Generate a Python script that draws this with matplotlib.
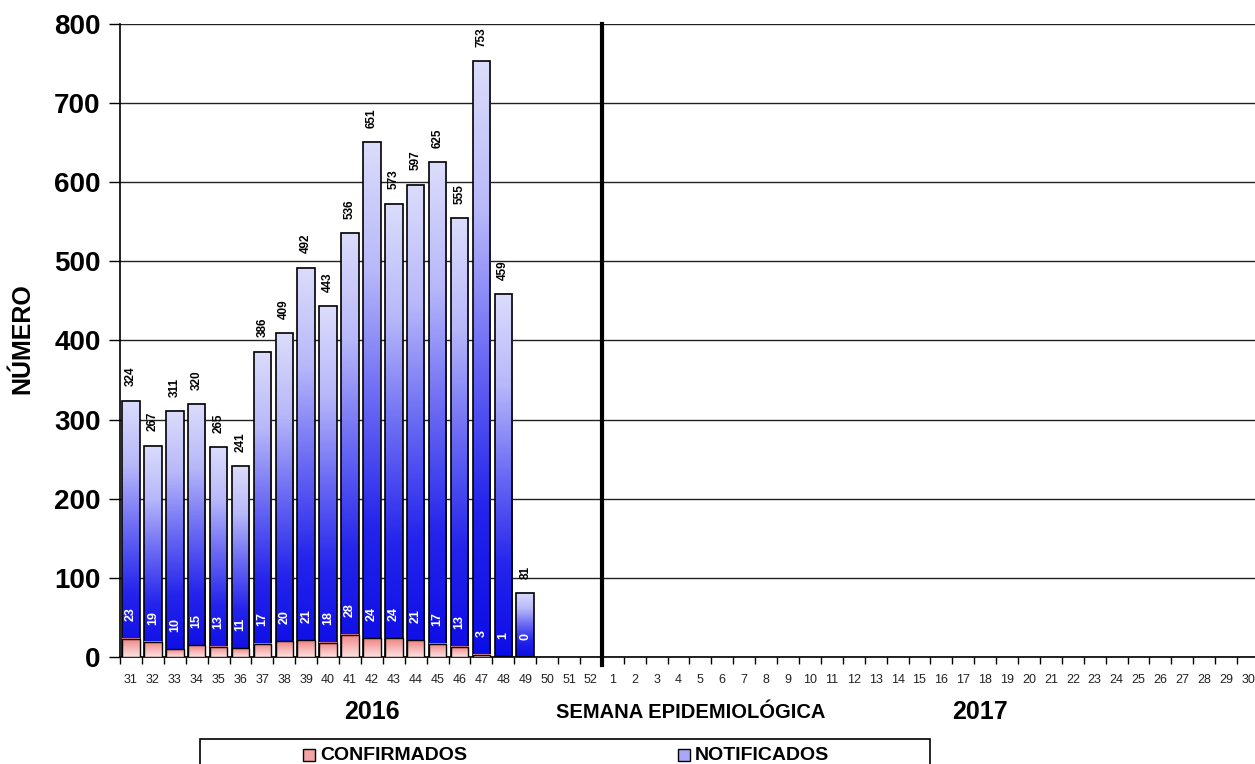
import numpy as np
import matplotlib.pyplot as plt
from matplotlib.colors import LinearSegmentedColormap
from matplotlib.patches import Rectangle

# semanas epidemiológicas: 31-52 de 2016 e 1-30 de 2017
semanas_2016 = list(range(31, 53))
semanas_2017 = list(range(1, 31))
rotulos = [str(s) for s in semanas_2016 + semanas_2017]

notificados = [324, 267, 311, 320, 265, 241, 386, 409, 492, 443, 536, 651,
               573, 597, 625, 555, 753, 459, 81]
confirmados = [23, 19, 10, 15, 13, 11, 17, 20, 21, 18, 28, 24,
               24, 21, 17, 13, 3, 1, 0]

fonte = ['Liberation Sans', 'DejaVu Sans']
fonte_estreita = ['Liberation Sans Narrow', 'Liberation Sans', 'DejaVu Sans']
plt.rcParams['font.family'] = fonte

# degradês (topo -> base)
cmap_azul = LinearSegmentedColormap.from_list(
    'azul', ['#dcdcfc', '#b8b8fa', '#6a6af4', '#2424ec', '#0c0ce6'])
cmap_verm = LinearSegmentedColormap.from_list(
    'verm', ['#ee8080', '#f6b4b4', '#ffe0e0'])

fig = plt.figure(figsize=(12.55, 7.64), dpi=100)
ax = fig.add_axes([120 / 1255, 1 - 657 / 764, 1139 / 1255, 633 / 764])

n = len(rotulos)
x = np.arange(n)
larg = 0.8
grad = np.linspace(0, 1, 256).reshape(-1, 1)

for i in range(len(notificados)):
    xi = x[i]
    # barra de notificados
    ax.imshow(grad, cmap=cmap_azul, aspect='auto', origin='upper',
              extent=(xi - larg / 2, xi + larg / 2, 0, notificados[i]), zorder=2)
    ax.add_patch(Rectangle((xi - larg / 2, 0), larg, notificados[i],
                           fill=False, edgecolor='black', lw=1.2, zorder=3))
    # barra de confirmados
    if confirmados[i] > 0:
        ax.imshow(grad, cmap=cmap_verm, aspect='auto', origin='upper',
                  extent=(xi - larg / 2, xi + larg / 2, 0, confirmados[i]), zorder=4)
        ax.add_patch(Rectangle((xi - larg / 2, 0), larg, confirmados[i],
                               fill=False, edgecolor='black', lw=1.0, zorder=5))
    # rótulos
    ax.text(xi, notificados[i] + 18, str(notificados[i]), rotation=90,
            ha='center', va='bottom', fontsize=8.5, fontweight='bold', zorder=6)
    ax.text(xi, confirmados[i] + 22, str(confirmados[i]), rotation=90,
            ha='center', va='bottom', fontsize=9, fontweight='bold',
            color='white', zorder=6)

ax.set_xlim(-0.5, n - 0.5)
ax.set_ylim(0, 800)

# linha que separa 2016 de 2017
ax.plot([len(semanas_2016) - 0.5] * 2, [-10, 800], color='black', lw=3,
        clip_on=False, zorder=7)

ax.set_yticks(np.arange(0, 801, 100))
ax.yaxis.grid(True, color='#222222', lw=1)
ax.set_axisbelow(True)
ax.tick_params(axis='y', labelsize=20, length=8, width=1, pad=6)
for t in ax.get_yticklabels():
    t.set_fontweight('bold')

ax.set_xticks(x)
ax.set_xticklabels(rotulos, family=fonte_estreita, fontsize=9, color='#222222')
ax.set_xticks(np.arange(-0.5, n, 1), minor=True)
ax.tick_params(axis='x', which='major', length=0, pad=12)
ax.tick_params(axis='x', which='minor', length=5, width=1)

for lado in ['top', 'right']:
    ax.spines[lado].set_visible(False)
ax.spines['left'].set_linewidth(1.2)
ax.spines['bottom'].set_linewidth(1.2)

fig.text(22 / 1255, 1 - 339 / 764, 'NÚMERO', rotation=90, ha='center',
         va='center', fontsize=18, fontweight='bold')
fig.text(372 / 1255, 1 - 712 / 764, '2016', ha='center', va='center',
         fontsize=18, fontweight='bold')
fig.text(691 / 1255, 1 - 712 / 764, 'SEMANA EPIDEMIOLÓGICA', ha='center',
         va='center', fontsize=14.5, fontweight='bold')
fig.text(980 / 1255, 1 - 712 / 764, '2017', ha='center', va='center',
         fontsize=18, fontweight='bold')

# legenda (caixa cortada na borda inferior, como no original)
fig.patches.append(Rectangle((200 / 1255, -0.02), 730 / 1255, 25 / 764 + 0.02,
                             transform=fig.transFigure, fill=False,
                             edgecolor='black', lw=1.2))
for x0, cor, nome in [(303, '#f4a4a4', 'CONFIRMADOS'), (678, '#a8a8f6', 'NOTIFICADOS')]:
    fig.patches.append(Rectangle((x0 / 1255, 1 - 761 / 764), 12 / 1255, 12 / 764,
                                 transform=fig.transFigure, facecolor=cor,
                                 edgecolor='black', lw=1))
    fig.text((x0 + 17) / 1255, 1 - 755 / 764, nome, ha='left', va='center',
             fontsize=14, fontweight='bold')

fig.savefig('out.png', dpi=100)
